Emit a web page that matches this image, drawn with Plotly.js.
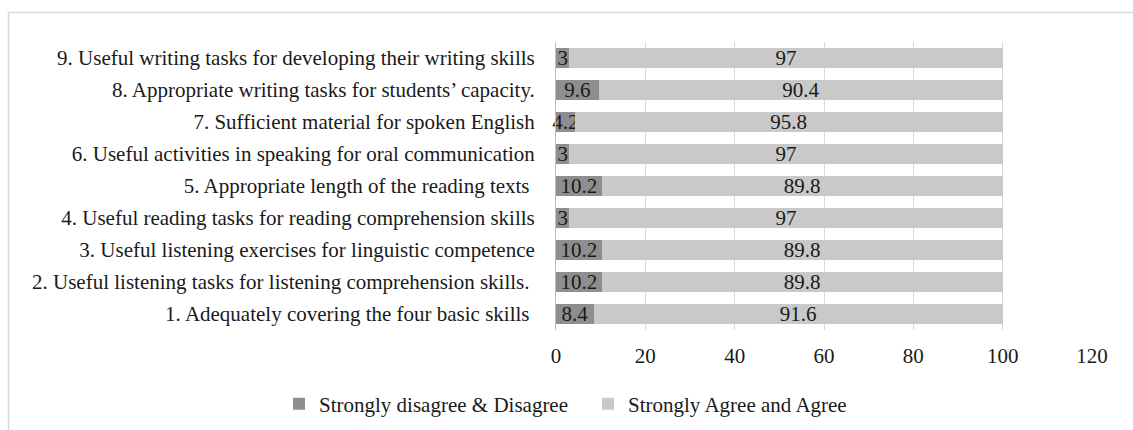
<!DOCTYPE html>
<html>
<head>
<meta charset="utf-8">
<script src="https://cdn.plot.ly/plotly-3.0.1.min.js"></script>
<style>
  html, body { margin: 0; padding: 0; background: #fff; }
  #chart { width: 1133px; height: 430px; }
</style>
</head>
<body>
<div id="chart"></div>
<script>
const categories = [
  "1. Adequately covering the four basic skills\u00a0",
  "2. Useful listening tasks for listening comprehension skills.\u00a0",
  "3. Useful listening exercises for linguistic competence",
  "4. Useful reading tasks for reading comprehension skills",
  "5. Appropriate length of the reading texts\u00a0",
  "6. Useful activities in speaking for oral communication",
  "7. Sufficient material for spoken English",
  "8. Appropriate writing tasks for students\u2019 capacity.",
  "9. Useful writing tasks for developing their writing skills"
];
const disagree = [8.4, 10.2, 10.2, 3, 10.2, 3, 4.2, 9.6, 3];
const agree = [91.6, 89.8, 89.8, 97, 89.8, 97, 95.8, 90.4, 97];
const seriesNames = ["Strongly disagree & Disagree", "Strongly Agree and Agree"];
const xTicks = [0, 20, 40, 60, 80, 100, 120];

const FONT = "'Liberation Serif', 'Times New Roman', serif";
const TXT = "#1a1a1a";

function barTrace(vals, name, color) {
  return {
    type: "bar",
    orientation: "h",
    x: vals,
    y: categories,
    name: name,
    marker: { color: color, line: { width: 0 } },
    text: vals.map(v => String(v)),
    textposition: "inside",
    insidetextanchor: "middle",
    textangle: 0,
    constraintext: "none",
    cliponaxis: false,
    textfont: { family: FONT, size: 21, color: TXT },
    hoverinfo: "x+name"
  };
}

const data = [
  barTrace(disagree, seriesNames[0], "#8e8e8e"),
  barTrace(agree, seriesNames[1], "#c9c9c9")
];

const L = 556, R = 41, T = 42, B = 100, W = 1133, H = 430;
const pw = W - L - R, ph = H - T - B;
const px = v => (v - L) / pw;
const py = v => (H - B - v) / ph;

const layout = {
  width: W, height: H,
  margin: { l: L, r: R, t: T, b: B, pad: 0, autoexpand: false },
  paper_bgcolor: "#ffffff",
  plot_bgcolor: "#ffffff",
  font: { family: FONT, size: 21, color: TXT },
  barmode: "stack",
  bargap: 0.37,
  showlegend: true,
  legend: {
    orientation: "h",
    x: px(279), xanchor: "left",
    y: py(404), yanchor: "middle",
    font: { family: FONT, size: 21, color: TXT },
    entrywidth: 264,
    entrywidthmode: "pixels",
    traceorder: "normal",
    bgcolor: "rgba(0,0,0,0)"
  },
  xaxis: {
    range: [0, 120],
    tickmode: "array",
    tickvals: xTicks,
    ticktext: xTicks.map(String),
    showgrid: true,
    gridcolor: "#d9d9d9",
    gridwidth: 1,
    zeroline: false,
    showline: false,
    ticks: "",
    ticklabelstandoff: 11,
    automargin: false,
    tickfont: { family: FONT, size: 21, color: TXT },
    fixedrange: true
  },
  yaxis: {
    type: "category",
    categoryorder: "array",
    categoryarray: categories,
    showgrid: false,
    zeroline: false,
    showline: true,
    linecolor: "#bfbfbf",
    linewidth: 1,
    ticks: "",
    ticklabelstandoff: 16,
    automargin: false,
    tickfont: { family: FONT, size: 21, color: TXT },
    fixedrange: true
  },
  shapes: [
    {
      type: "rect", xref: "paper", yref: "paper",
      x0: px(8.5), x1: px(1145), y0: py(445), y1: py(12.5),
      line: { color: "#d9d9d9", width: 1.5 },
      fillcolor: "rgba(0,0,0,0)",
      layer: "below"
    }
  ]
};

Plotly.newPlot("chart", data, layout, { displayModeBar: false, staticPlot: true });
</script>
</body>
</html>
